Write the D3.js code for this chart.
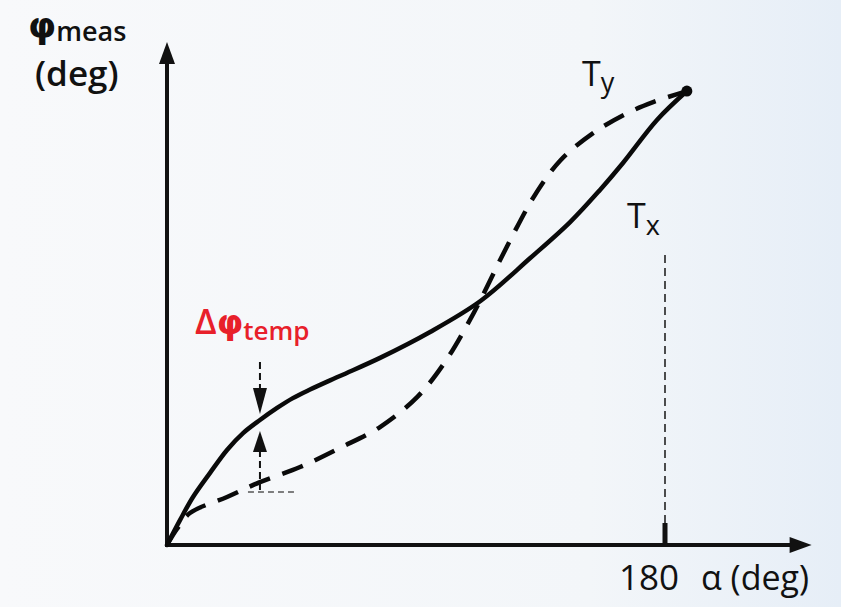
<!DOCTYPE html>
<html><head><meta charset="utf-8">
<script src="https://cdn.jsdelivr.net/npm/d3@7"></script>
<style>html,body{margin:0;padding:0;background:#f5f7fa;}svg{display:block;}</style>
</head><body>
<svg id="c" width="841" height="607"></svg>
<script>
// Data (α in deg, φ in deg)
const solidAlpha = [0,4.7,9.4,15.5,21.7,27.5,33.6,39.8,45.5,51.7,62.5,77.0,95.1,113.3,131.3,145.7,156.5,164.8,177.1,187.9];
const solidPhi   = [0,9.9,19.1,28.6,37.8,44.5,49.7,54.5,58.4,61.8,67.2,74.4,84.7,97.0,114.1,128.4,141.2,151.9,169.0,180.5];
const dashAlpha  = [0,3.6,8.3,21.7,33.6,48.1,62.5,77.0,90.4,100.5,109.5,114.2,120.4,126.5,133.0,142.0,154.0,167.3,175.7,187.9];
const dashPhi    = [0,6.4,12.7,19.1,25.0,31.0,38.6,46.9,58.8,72.8,89.5,99.4,113.3,126.4,139.2,152.7,163.8,172.2,176.1,180.5];
const xTicks = [180];
const deltaAlpha = 33.6;      // position of the Δφ_temp annotation
const deltaTop = 49.7, deltaBottom = 21.1;
const endPoint = [187.9, 180.5];

const svg = d3.select("#c");
const defs = svg.append("defs");
const g = defs.append("linearGradient").attr("id","bg").attr("x1","0").attr("x2","1").attr("y1","0").attr("y2","0");
g.append("stop").attr("offset","0").attr("stop-color","#f8f9fb");
g.append("stop").attr("offset","0.7").attr("stop-color","#f3f6f9");
g.append("stop").attr("offset","1").attr("stop-color","#e6eef7");
svg.append("rect").attr("width",841).attr("height",607).attr("fill","url(#bg)");

const x = d3.scaleLinear().domain([0,180]).range([167,665]);
const y = d3.scaleLinear().domain([0,200]).range([545,42]);
const font = "'Open Sans', 'DejaVu Sans', sans-serif";
const phiFont = "'DejaVu Sans', sans-serif";

// Axes
const ax = svg.append("g").attr("stroke","#111").attr("fill","#111");
ax.append("line").attr("x1",x(0)).attr("y1",y(0)+2).attr("x2",x(0)).attr("y2",y(200)+18).attr("stroke-width",4);
ax.append("path").attr("d",`M${x(0)},${y(200)} L${x(0)-8},${y(200)+22} L${x(0)+8},${y(200)+22}Z`).attr("stroke","none");
const xEnd = x(233);
ax.append("line").attr("x1",x(0)-2).attr("y1",y(0)).attr("x2",xEnd-18).attr("y2",y(0)).attr("stroke-width",4);
ax.append("path").attr("d",`M${xEnd},${y(0)} L${xEnd-22},${y(0)-8} L${xEnd-22},${y(0)+8}Z`).attr("stroke","none");

// Tick at 180 with dashed guide
xTicks.forEach(t=>{
  svg.append("line").attr("x1",x(t)).attr("x2",x(t)).attr("y1",y(0)).attr("y2",y(0)-22)
    .attr("stroke","#111").attr("stroke-width",5);
  svg.append("line").attr("x1",x(t)).attr("x2",x(t)).attr("y1",y(0)-22).attr("y2",250)
    .attr("stroke","#222").attr("stroke-width",1.6).attr("stroke-dasharray","8,5");
  svg.append("text").attr("x",x(t)-46).attr("y",590).attr("font-family",font).attr("font-size",35)
    .attr("font-weight",500).attr("fill","#111").text(String(t));
});
svg.append("text").attr("x",701).attr("y",590).attr("font-family",font).attr("font-size",34)
  .attr("font-weight",500).attr("fill","#111").text("α (deg)");

// Curves
const line = d3.line().x(d=>x(d[0])).y(d=>y(d[1])).curve(d3.curveCatmullRom.alpha(0.5));
svg.append("path").datum(solidAlpha.map((a,i)=>[a,solidPhi[i]])).attr("d",line)
  .attr("fill","none").attr("stroke","#0a0a0a").attr("stroke-width",4.5).attr("stroke-linecap","round");
svg.append("path").datum(dashAlpha.map((a,i)=>[a,dashPhi[i]])).attr("d",line)
  .attr("fill","none").attr("stroke","#0a0a0a").attr("stroke-width",4.5).attr("stroke-dasharray","22,13");
svg.append("circle").attr("cx",x(endPoint[0])).attr("cy",y(endPoint[1])).attr("r",5.5).attr("fill","#0a0a0a");

// Δφ_temp annotation
const ax0 = x(deltaAlpha), yt = y(deltaTop), yb = y(deltaBottom);
const an = svg.append("g");
an.append("line").attr("x1",ax0).attr("x2",ax0).attr("y1",yt-58).attr("y2",yt-30)
  .attr("stroke","#111").attr("stroke-width",2).attr("stroke-dasharray","7,4");
an.append("path").attr("d",`M${ax0},${yt-6} L${ax0-7},${yt-32} L${ax0+7},${yt-32}Z`).attr("fill","#111");
an.append("path").attr("d",`M${ax0},${yt+11} L${ax0-7},${yt+32} L${ax0+7},${yt+32}Z`).attr("fill","#111");
an.append("line").attr("x1",ax0).attr("x2",ax0).attr("y1",yt+30).attr("y2",yb+2)
  .attr("stroke","#111").attr("stroke-width",2).attr("stroke-dasharray","7,4");
an.append("line").attr("x1",ax0-12).attr("x2",ax0+34).attr("y1",yb).attr("y2",yb)
  .attr("stroke","#555").attr("stroke-width",1.5).attr("stroke-dasharray","6,4");
const dt = svg.append("text").attr("x",195).attr("y",334).attr("font-family",font).attr("fill","#e8202a").attr("font-weight",600);
dt.append("tspan").attr("font-size",35).text("Δ");
dt.append("tspan").attr("font-size",34).attr("font-family",phiFont).attr("font-weight",700).text("φ");
dt.append("tspan").attr("font-size",26).attr("dy",6).text("temp");

// Labels
const yl = svg.append("text").attr("x",28).attr("y",38).attr("font-family",font).attr("fill","#111").attr("font-weight",600);
yl.append("tspan").attr("font-size",36).attr("font-family",phiFont).attr("font-weight",700).text("φ");
yl.append("tspan").attr("font-size",27).attr("dy",3).text("meas");
svg.append("text").attr("x",35).attr("y",86).attr("font-family",font).attr("font-size",35).attr("fill","#111").attr("font-weight",600).text("(deg)");
const ty = svg.append("text").attr("x",582).attr("y",86).attr("font-family",font).attr("fill","#111").attr("font-weight",500);
ty.append("tspan").attr("font-size",34).text("T");
ty.append("tspan").attr("font-size",27).attr("dy",6).text("y");
const tx = svg.append("text").attr("x",627).attr("y",228).attr("font-family",font).attr("fill","#111").attr("font-weight",500);
tx.append("tspan").attr("font-size",34).text("T");
tx.append("tspan").attr("font-size",27).attr("dy",7).text("x");
</script>
</body></html>
